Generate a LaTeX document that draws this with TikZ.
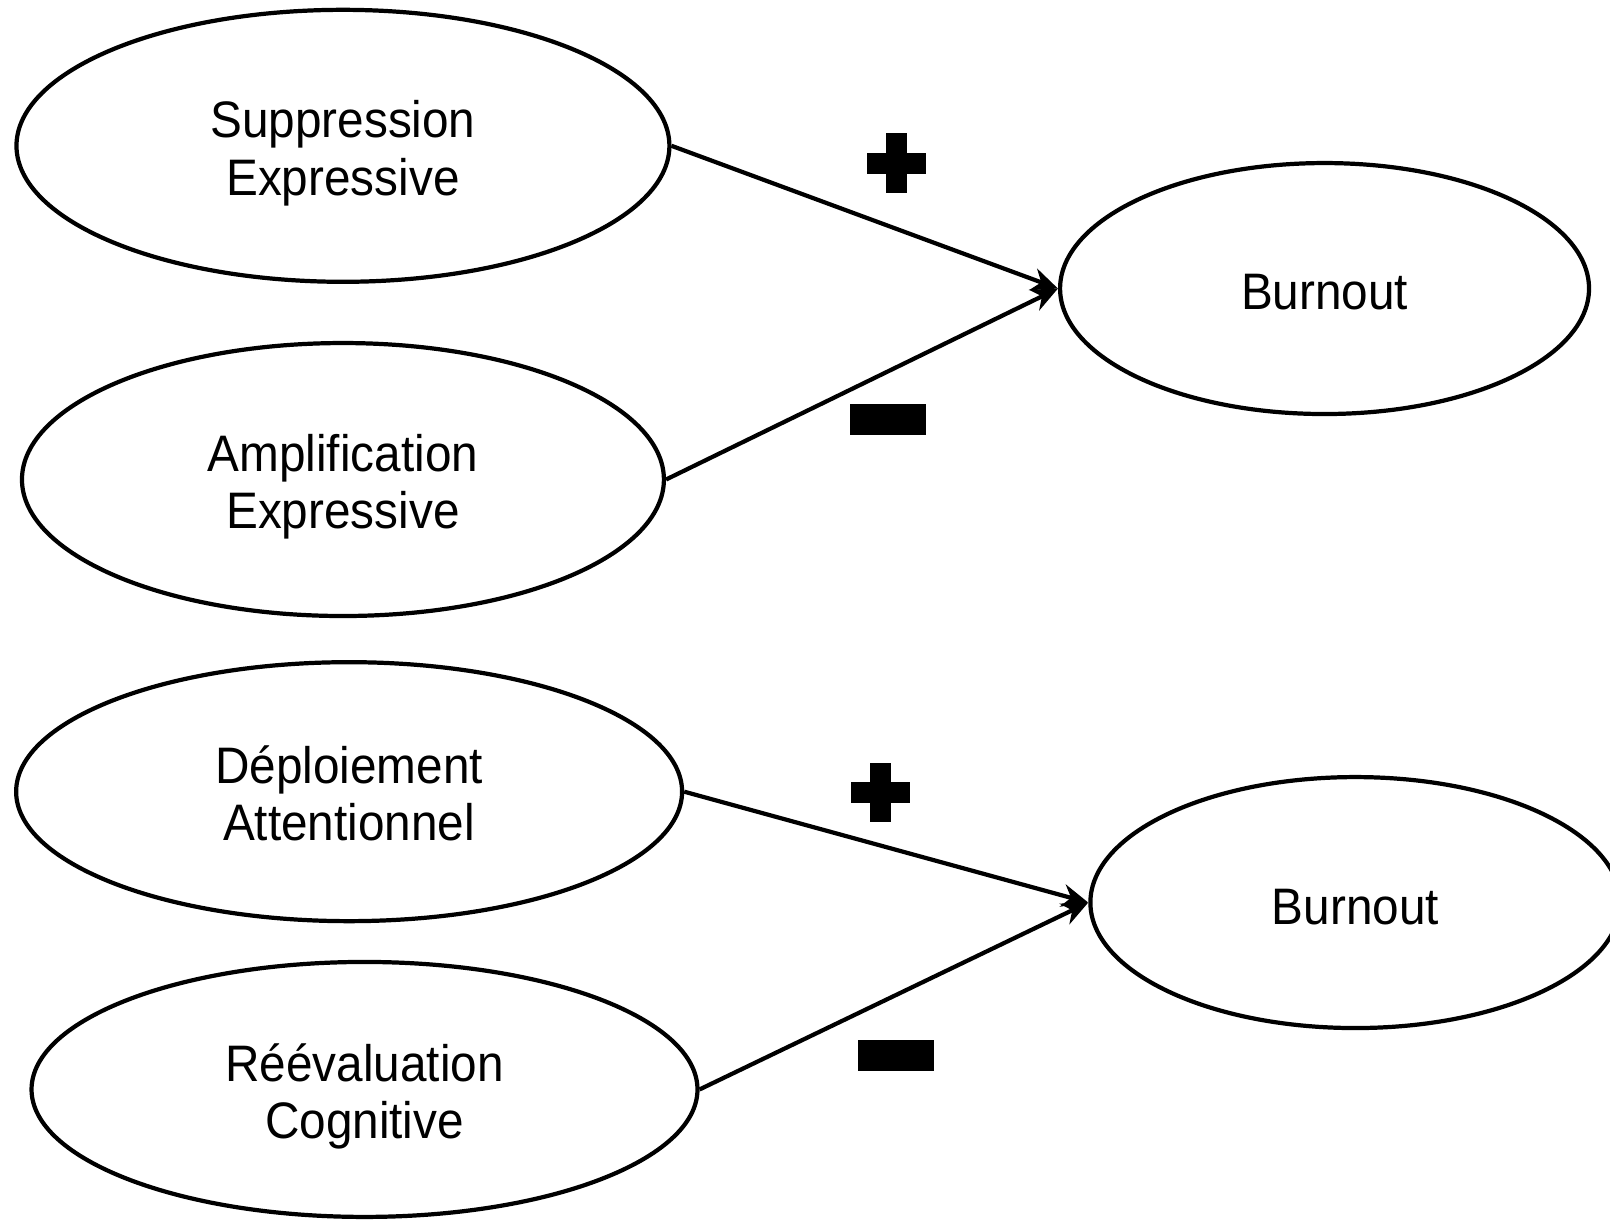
\documentclass[tikz,border=0pt]{standalone}
\usepackage{fontspec}
\setmainfont[FakeStretch=0.93]{Liberation Sans}
\usetikzlibrary{shapes.geometric,arrows.meta}

\def\plussign#1{\fill[black] ($#1+(-28.5,-10)$) rectangle ($#1+(28.5,10)$);
	\fill[black] ($#1+(-10,-29)$) rectangle ($#1+(10,29)$);}
\def\minussign#1{\fill[black] ($#1+(-37,-15)$) rectangle ($#1+(37,15)$);}

\usetikzlibrary{calc}

\begin{document}
\begin{tikzpicture}[x=0.010268cm, y=-0.010268cm,
	factor/.style={ellipse, draw, line width=1.2pt, align=center, text height=28pt, text depth=0pt,
		font=\fontsize{14.6}{16.4}\selectfont},
	outcome/.style={factor, text height=12.2pt, text depth=0pt},
	effect/.style={-{Stealth[length=7.5pt,width=6.5pt]}, line width=1.2pt}]
	
	\useasboundingbox (0,0) rectangle (1568,1188);
	
	\node[factor, minimum width=6.53cm, minimum height=2.72cm] (supp) at (334,142) {Suppression\\Expressive};
	\node[factor, minimum width=6.42cm, minimum height=2.73cm] (ampl) at (334,467) {Amplification\\Expressive};
	\node[outcome, minimum width=5.29cm, minimum height=2.51cm] (burnA) at (1290,281) {Burnout};
	
	\node[factor, minimum width=6.66cm, minimum height=2.59cm] (depl) at (340,771) {Déploiement\\Attentionnel};
	\node[factor, minimum width=6.66cm, minimum height=2.55cm] (reev) at (355,1061) {Réévaluation\\Cognitive};
	\node[outcome, minimum width=5.30cm, minimum height=2.51cm] (burnB) at (1320,879) {Burnout};
	
	\draw[effect] (supp.east) -- (burnA.west);
	\draw[effect] (ampl.east) -- (burnA.west);
	\draw[effect] (depl.east) -- (burnB.west);
	\draw[effect] (reev.east) -- (burnB.west);
	
	\plussign{(873,159)}
	\minussign{(865,408.5)}
	\plussign{(857.5,772)}
	\minussign{(873,1028)}
	
\end{tikzpicture}
\end{document}
